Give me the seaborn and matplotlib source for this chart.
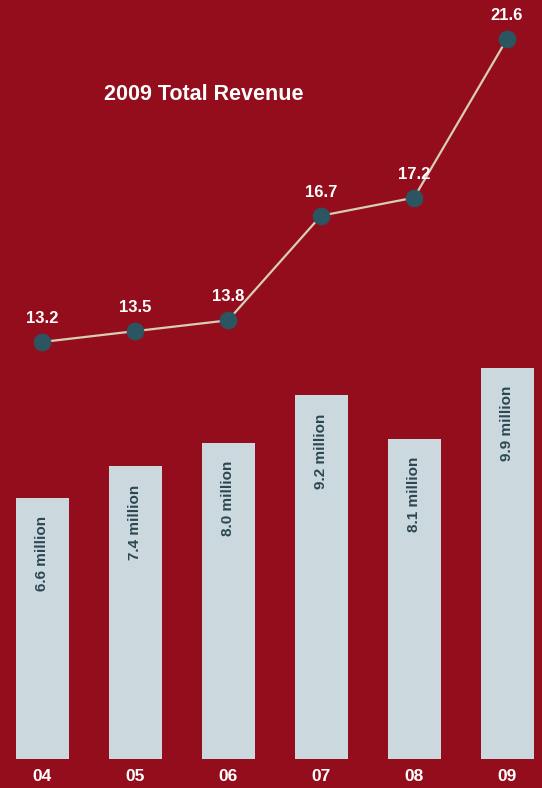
import matplotlib

matplotlib.use("Agg")
import matplotlib.pyplot as plt
import pandas as pd
import seaborn as sns

# valeurs
years = ["04", "05", "06", "07", "08", "09"]
bar_values = [6.6, 7.4, 8.0, 9.2, 8.1, 9.9]
bar_labels = ["6.6 million", "7.4 million", "8.0 million", "9.2 million", "8.1 million", "9.9 million"]
revenue = [13.2, 13.5, 13.8, 16.7, 17.2, 21.6]
title = "2009 Total Revenue"

BG = "#930D1C"
BAR = "#CBD9DF"
LINE = "#D8CDB8"
MARKER = "#2B5560"
BAR_TEXT = "#2C4751"

sns.set_theme(style="white")
plt.rcParams["font.family"] = ["Liberation Sans", "DejaVu Sans"]

df = pd.DataFrame({"year": years, "bars": bar_values, "revenue": revenue, "pos": range(len(years))})

fig = plt.figure(figsize=(5.42, 7.88), dpi=100, facecolor=BG)
ax = fig.add_axes([0, 29 / 788, 1, 759 / 788])
ax.set_facecolor(BG)

sns.barplot(data=df, x="year", y="bars", color=BAR, width=0.57, saturation=1,
            linewidth=0, ax=ax)
ax.set_xlim(-0.452, 5.376)
ax.set_ylim(0, 19.2)

for i, (v, lab) in enumerate(zip(bar_values, bar_labels)):
    ax.annotate(lab, (i, v), xytext=(0, -13), textcoords="offset points",
                rotation=90, ha="center", va="top", fontsize=11, fontweight="bold",
                color=BAR_TEXT)

ax2 = ax.twinx()
sns.lineplot(data=df, x="pos", y="revenue", color=LINE, linewidth=1.6, marker="o",
             markersize=12, markerfacecolor=MARKER, markeredgecolor=MARKER, ax=ax2)
ax2.set_ylim(1.64, 22.68)
ax2.set_xlim(-0.452, 5.376)

for i, v in enumerate(revenue):
    ax2.annotate(f"{v:.1f}", (i, v), xytext=(0, 17), textcoords="offset points",
                 ha="center", va="center", fontsize=12, fontweight="bold", color="white",
                 zorder=10)

fig.text(204 / 542, 1 - 94 / 788, title, ha="center", va="center",
         fontsize=15.5, fontweight="bold", color="white")

for a in (ax, ax2):
    a.set_xlabel("")
    a.set_ylabel("")
    a.set_yticks([])
    for s in a.spines.values():
        s.set_visible(False)
ax2.tick_params(axis="x", bottom=False, labelbottom=False)
ax.set_xticks(range(len(years)), years)
ax.tick_params(axis="x", length=0, pad=7, labelsize=12.5, labelcolor="white")
for t in ax.get_xticklabels():
    t.set_fontweight("bold")

fig.savefig("out.png", dpi=100, facecolor=BG)
